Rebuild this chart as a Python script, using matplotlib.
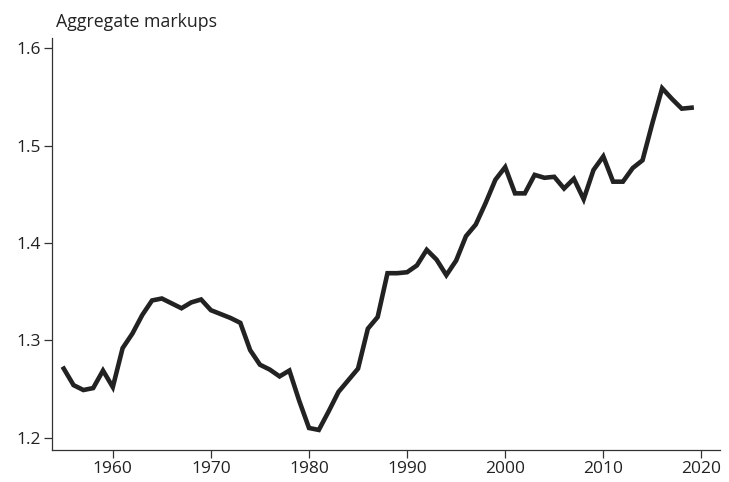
import matplotlib
matplotlib.use("Agg")
import matplotlib.pyplot as plt

# Aggregate markups
years = list(range(1955, 2020))
markups = [
    1.271, 1.254, 1.249, 1.251, 1.269, 1.252, 1.292, 1.307, 1.326, 1.341,  # 1955-1964
    1.343, 1.338, 1.333, 1.339, 1.342, 1.331, 1.327, 1.323, 1.318, 1.290,  # 1965-1974
    1.275, 1.270, 1.263, 1.269, 1.238, 1.210, 1.208, 1.227, 1.247, 1.259,  # 1975-1984
    1.271, 1.312, 1.324, 1.369, 1.369, 1.370, 1.377, 1.393, 1.383, 1.367,  # 1985-1994
    1.382, 1.407, 1.419, 1.441, 1.465, 1.478, 1.451, 1.451, 1.470, 1.467,  # 1995-2004
    1.468, 1.456, 1.466, 1.445, 1.475, 1.489, 1.463, 1.463, 1.477, 1.485,  # 2005-2014
    1.523, 1.559, 1.548, 1.538, 1.539,                                      # 2015-2019
]

x_ticks = [1960, 1970, 1980, 1990, 2000, 2010, 2020]
y_ticks = [1.2, 1.3, 1.4, 1.5, 1.6]

plt.rcParams['font.family'] = ['Open Sans', 'DejaVu Sans']

fig = plt.figure(figsize=(7.29, 4.82), dpi=100)
ax = fig.add_axes([0.0713, 0.0664, 0.9164, 0.8548])

ax.plot(years, markups, color="#222222", linewidth=3.3, solid_joinstyle="miter")

ax.set_xlim(1953.8, 2021.9)
ax.set_ylim(1.1874, 1.6106)
ax.set_xticks(x_ticks)
ax.set_yticks(y_ticks)
ax.set_yticklabels([f"{v:.1f}" for v in y_ticks])

# only left and bottom axis lines
for side in ["top", "right"]:
    ax.spines[side].set_visible(False)
for side in ["left", "bottom"]:
    ax.spines[side].set_linewidth(0.9)
    ax.spines[side].set_color("#333333")

ax.tick_params(axis="both", direction="out", length=5.5, width=0.9,
               color="#333333", labelsize=12.5, labelcolor="#222222", pad=2.5)

fig.text(56 / 729, 1 - 22 / 482, "Aggregate markups", fontsize=12.8,
         color="#222222", ha="left", va="center")

fig.savefig("out.png", dpi=100)
